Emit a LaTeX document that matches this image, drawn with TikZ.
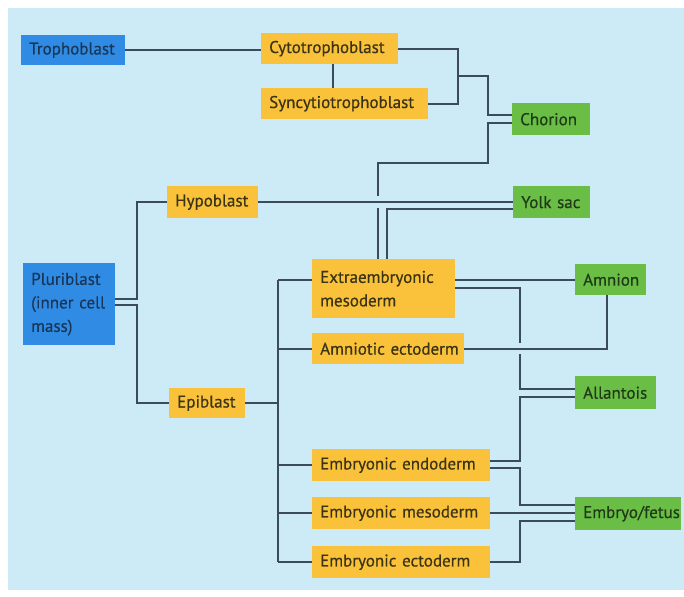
\documentclass[tikz,border=0pt]{standalone}
\usepackage{fontspec}
\setmainfont{PT Sans}[FakeBold=0.5]
\definecolor{bgblue}{HTML}{CDEBF7}
\definecolor{boxyel}{HTML}{F9C23A}
\definecolor{boxgrn}{HTML}{6BBE45}
\definecolor{boxblu}{HTML}{2F8BE4}
\definecolor{linec}{HTML}{3C4A5E}
\definecolor{txtyel}{HTML}{3A3315}
\definecolor{txtgrn}{HTML}{1E3A17}
\definecolor{txtblu}{HTML}{1A3656}
\newcommand\mybx[7]{%
  \pgfmathsetmacro\myBW{#5-#3}\pgfmathsetmacro\myBH{#6-#4}\pgfmathsetmacro\myTW{#5-#3-16}%
  \node[#2, minimum width=\myBW pt, minimum height=\myBH pt, text width=\myTW pt, anchor=north west] (#1) at (#3,#4) {#7};}
\begin{document}
\begin{tikzpicture}[x=1pt,y=-1pt,
  base/.style={rectangle, inner xsep=8pt, inner ysep=0pt, align=left, font=\fontsize{17}{23.5}\selectfont},
  ybox/.style={base, fill=boxyel, text=txtyel},
  gbox/.style={base, fill=boxgrn, text=txtgrn},
  bbox/.style={base, fill=boxblu, text=txtblu},
  conn/.style={draw=linec, line width=2pt}]
\useasboundingbox (0,0) rectangle (684,596);
\fill[white] (0,0) rectangle (684,596);
\fill[bgblue] (8,8) rectangle (684,590);
% nodes
\mybx{tropho}{bbox}{21}{35}{125}{65}{\mbox{Trophoblast}}
\mybx{cyto}{ybox}{261}{33}{398}{64}{\mbox{Cytotrophoblast}}
\mybx{syncy}{ybox}{261}{88}{428}{119}{\mbox{Syncytiotrophoblast}}
\mybx{chorion}{gbox}{512}{103}{590}{135}{\mbox{Chorion}}
\mybx{hypo}{ybox}{167}{186}{258}{218}{\mbox{Hypoblast}}
\mybx{yolk}{gbox}{513}{186}{590}{218}{\mbox{Yolk sac}}
\mybx{pluri}{bbox}{23}{263}{115}{345}{\mbox{Pluriblast}\\\mbox{(inner cell}\\\mbox{mass)}}
\mybx{extm}{ybox}{312}{259}{455}{318}{\mbox{Extraembryonic}\\\mbox{mesoderm}}
\mybx{amnion}{gbox}{575}{264}{646}{295}{\mbox{Amnion}}
\mybx{amect}{ybox}{312}{333}{464}{364}{\mbox{Amniotic ectoderm}}
\mybx{allan}{gbox}{575}{376}{656}{409}{\mbox{Allantois}}
\mybx{epi}{ybox}{169}{388}{245}{418}{\mbox{Epiblast}}
\mybx{endo}{ybox}{312}{449}{490}{481}{\mbox{Embryonic endoderm}}
\mybx{meso}{ybox}{312}{497}{490}{529}{\mbox{Embryonic mesoderm}}
\mybx{ecto}{ybox}{312}{546}{490}{578}{\mbox{Embryonic ectoderm}}
\mybx{embryo}{gbox}{575}{497}{681}{530}{\mbox{Embryo/fetus}}
% bus coordinates
\coordinate (xa) at (333,0);
\coordinate (xb) at (458,0);
\coordinate (xc) at (488,0);
\coordinate (xd) at (378,0);
\coordinate (xe) at (387,0);
\coordinate (xf) at (137,0);
\coordinate (xg) at (278,0);
\coordinate (xh) at (520,0);
\coordinate (xi) at (607,0);
\coordinate (y76) at (0,76);
\coordinate (y115) at (0,115);
\coordinate (y123) at (0,123);
\coordinate (y163) at (0,163);
\coordinate (y196) at (0,196);
\coordinate (y208) at (0,208);
\coordinate (y210) at (0,209);
\coordinate (y280) at (0,280);
\coordinate (y288) at (0,288);
\coordinate (y298) at (0,299);
\coordinate (y305) at (0,305);
\coordinate (y343) at (0,343);
\coordinate (y354) at (0,354);
\coordinate (y389) at (0,389);
\coordinate (y397) at (0,397);
\coordinate (y461) at (0,461);
\coordinate (y468) at (0,468);
\coordinate (y505) at (0,505);
\coordinate (y513) at (0,513);
\coordinate (y521) at (0,521);
% connectors
\draw[conn] (tropho.east) -- (tropho.east -| cyto.west);
\draw[conn] (cyto.south -| xa) -- (syncy.north -| xa);
\draw[conn] (cyto.east) -- (cyto.east -| xb) -- (syncy.east -| xb) -- (syncy.east);
\draw[conn] (xb |- y76) -- (xc |- y76) -- (xc |- y115) -- (chorion.west |- y115);
\draw[conn] (chorion.west |- y123) -- (xc |- y123) -- (xc |- y163) -- (xd |- y163) -- (xd |- y196);
\draw[conn] (xd |- y208) -- (xd |- extm.north);
\draw[conn] (yolk.west |- y210) -- (xe |- y210) -- (xe |- extm.north);
\draw[conn] (hypo.east) -- (yolk.west);
\draw[conn] (pluri.east |- y298) -- (xf |- y298) -- (xf |- hypo.west) -- (hypo.west);
\draw[conn] (pluri.east |- y305) -- (xf |- y305) -- (xf |- epi.west) -- (epi.west);
\draw[conn] (epi.east) -- (xg |- epi.east);
\draw[conn] (xg |- y280) -- (xg |- ecto.west);
\draw[conn] (xg |- y280) -- (extm.west |- y280);
\draw[conn] (xg |- amect.west) -- (amect.west);
\draw[conn] (xg |- endo.west) -- (endo.west);
\draw[conn] (xg |- meso.west) -- (meso.west);
\draw[conn] (xg |- ecto.west) -- (ecto.west);
\draw[conn] (extm.east |- amnion.west) -- (amnion.west);
\draw[conn] (extm.east |- y288) -- (xh |- y288) -- (xh |- y343);
\draw[conn] (xh |- y354) -- (xh |- y389) -- (allan.west |- y389);
\draw[conn] (amect.east) -- (xi |- amect.east) -- (amnion.south -| xi);
\draw[conn] (endo.east |- y461) -- (xh |- y461) -- (xh |- y397) -- (allan.west |- y397);
\draw[conn] (endo.east |- y468) -- (xh |- y468) -- (xh |- y505) -- (embryo.west |- y505);
\draw[conn] (meso.east |- y513) -- (embryo.west |- y513);
\draw[conn] (ecto.east) -- (xh |- ecto.east) -- (xh |- y521) -- (embryo.west |- y521);
\end{tikzpicture}
\end{document}
